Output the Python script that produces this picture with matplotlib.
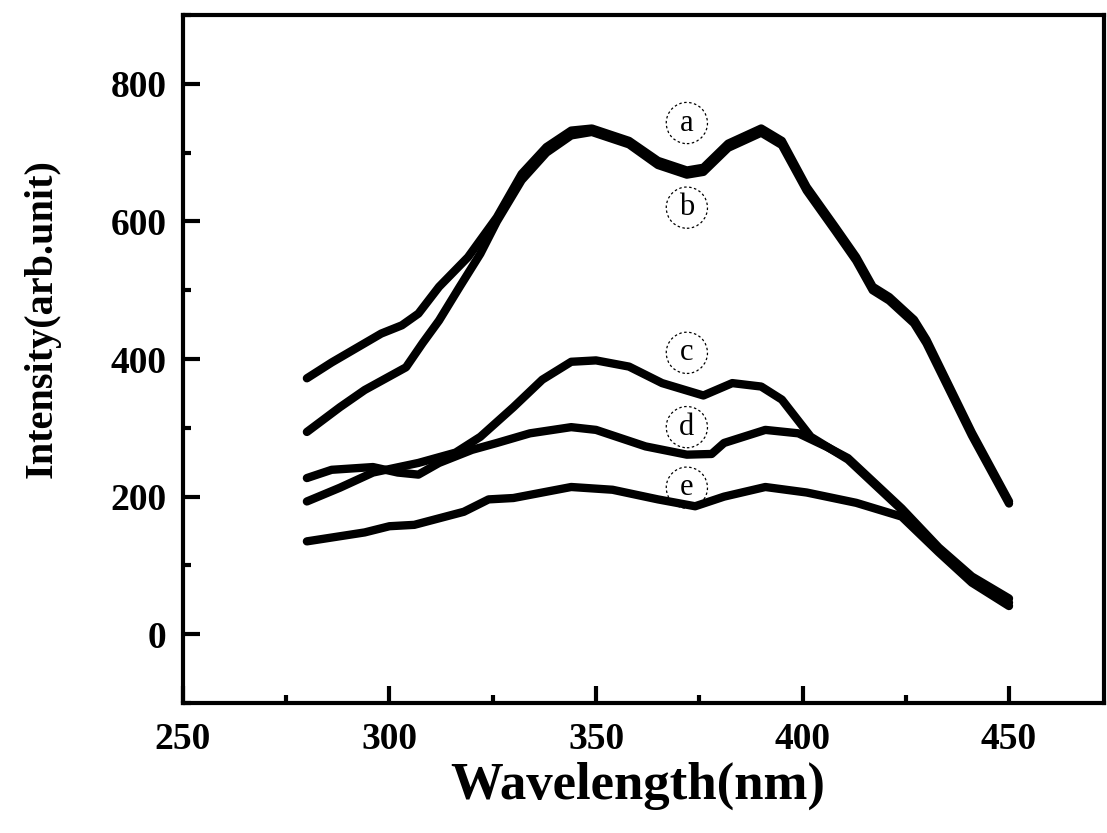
import matplotlib.pyplot as plt
from matplotlib.ticker import MultipleLocator

# Emission spectra, curves (a)-(e)
wl_a = [280, 286, 290, 298, 303, 307, 312, 319, 326, 332, 338, 344, 349, 358, 365,
        372, 376, 382, 390, 395, 401, 408, 413, 417, 421, 427, 430, 441, 450]
int_a = [372, 395, 409, 437, 449, 466, 505, 548, 606, 669, 708, 732, 735, 717, 688,
         674, 678, 713, 735, 717, 650, 591, 548, 505, 490, 457, 428, 293, 193]

wl_b = [280, 288, 294, 304, 308, 312, 317, 322, 326, 332, 338, 344, 349, 358, 365,
        372, 376, 382, 390, 395, 401, 408, 413, 417, 421, 427, 430, 441, 450]
int_b = [294, 330, 355, 388, 423, 456, 505, 553, 600, 660, 700, 725, 730, 712, 682,
         668, 672, 707, 729, 711, 645, 586, 543, 500, 485, 452, 423, 289, 190]

wl_c = [280, 288, 296, 307, 316, 322, 330, 337, 344, 350, 358, 366, 376, 383, 390,
        395, 402, 411, 424, 433, 441, 450]
int_c = [193, 213, 235, 249, 264, 287, 330, 370, 396, 398, 389, 365, 347, 365, 360,
         341, 287, 254, 181, 123, 80, 46]

wl_d = [280, 286, 296, 302, 307, 312, 320, 326, 334, 344, 350, 362, 372, 378, 381,
        391, 399, 406, 411, 424, 433, 441, 450]
int_d = [227, 239, 243, 235, 232, 249, 268, 278, 292, 301, 297, 273, 261, 262, 278,
         297, 292, 272, 256, 183, 126, 84, 52]

wl_e = [280, 294, 300, 306, 318, 324, 330, 344, 354, 365, 374, 381, 391, 401, 413,
        424, 433, 441, 450]
int_e = [135, 148, 157, 159, 178, 196, 198, 214, 210, 196, 186, 200, 214, 206, 191,
         171, 119, 75, 41]

series = [(wl_a, int_a), (wl_b, int_b), (wl_c, int_c), (wl_d, int_d), (wl_e, int_e)]

# curve labels
label_text = ['a', 'b', 'c', 'd', 'e']
label_x = [372, 372, 372, 372, 372]
label_y = [743, 620, 409, 301, 213]

serif = ['Liberation Serif', 'DejaVu Serif']

fig = plt.figure(figsize=(11.07, 8.33), dpi=100)
ax = fig.add_axes([0.1653, 0.156, 0.832, 0.826])

for x, y in series:
    ax.plot(x, y, color='black', lw=6, solid_joinstyle='round', solid_capstyle='round')

for t, x, y in zip(label_text, label_x, label_y):
    ax.text(x, y, t, ha='center', va='center', fontsize=22, family=serif,
            bbox=dict(boxstyle='circle,pad=0.2', fill=False, ls=(0, (2, 2)), lw=0.9))

ax.set_xlim(250, 473)
ax.set_ylim(-100, 900)
ax.set_xticks([250, 300, 350, 400, 450])
ax.set_yticks([0, 200, 400, 600, 800])
ax.xaxis.set_minor_locator(MultipleLocator(25))
ax.yaxis.set_minor_locator(MultipleLocator(100))
ax.tick_params(which='both', direction='in', width=3, top=False, right=False)
ax.tick_params(which='major', length=12)
ax.tick_params(which='minor', length=6)
ax.tick_params(axis='x', pad=14)
ax.tick_params(axis='y', pad=12)
for lab in ax.get_xticklabels() + ax.get_yticklabels():
    lab.set_family(serif)
    lab.set_fontweight('bold')
    lab.set_fontsize(27)
for s in ax.spines.values():
    s.set_linewidth(3)

fig.text(0.576, 0.057, 'Wavelength(nm)', ha='center', va='center', fontsize=38,
         fontweight='bold', family=serif)
fig.text(0.038, 0.618, 'Intensity(arb.unit)', ha='center', va='center', rotation=90,
         fontsize=29, fontweight='bold', family=serif)

fig.savefig('out.png', dpi=100)
